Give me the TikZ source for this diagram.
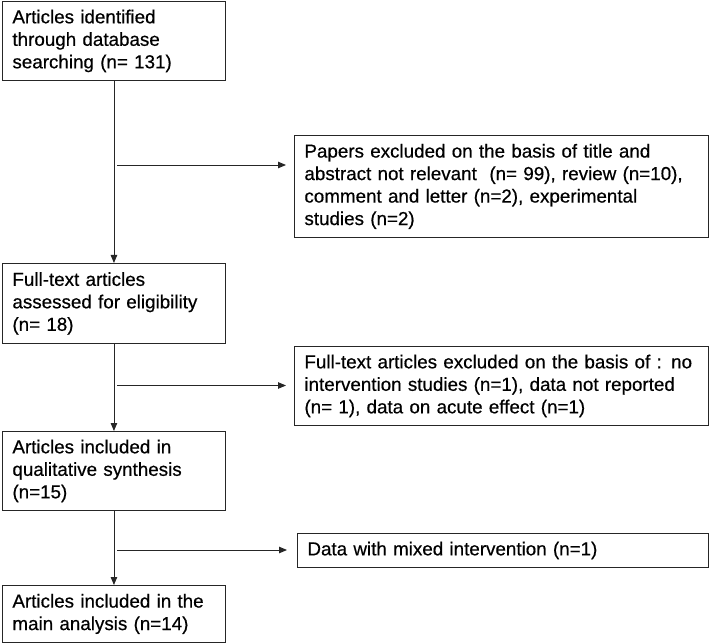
\documentclass[tikz,border=0pt]{standalone}
\usepackage{fontspec}
\setmainfont[FakeBold=0.5]{Liberation Sans}
\usetikzlibrary{arrows.meta,calc}
\tikzset{
  stage/.style={draw=black!85, line width=.9pt, anchor=north west, align=left,
    inner xsep=10pt, inner ysep=0pt, font=\fontsize{18.8}{22.5}\selectfont},
  flow/.style={draw=black!85, line width=.9pt, -{Triangle[length=8pt,width=6.5pt]}}
}
\begin{document}
\begin{tikzpicture}[x=1pt,y=-1pt]
  \useasboundingbox (0,0) rectangle (709,644);
  % main column
  \node[stage, text width=203pt, minimum height=79pt] (ident) at (2,1) {Articles identified\\through database\\searching (n= 131)};
  \node[stage, text width=203pt, minimum height=80pt] (elig) at (2,263) {Full-text articles\\assessed for eligibility\\(n= 18)};
  \node[stage, text width=203pt, minimum height=79pt] (qual) at (2,431) {Articles included in\\qualitative synthesis\\(n=15)};
  \node[stage, text width=203pt, minimum height=57pt] (main) at (2,585) {Articles included in the\\main analysis (n=14)};
  % exclusions
  \node[stage, text width=394pt, minimum height=102pt] (excl) at (294,135) {Papers excluded on the basis of title and\\abstract not relevant\ \ (n= 99), review (n=10),\\comment and letter (n=2), experimental\\studies (n=2)};
  \node[stage, text width=394pt, minimum height=79pt] (fexcl) at (294,346) {Full-text articles excluded on the basis of : no\\intervention studies (n=1), data not reported\\(n= 1), data on acute effect (n=1)};
  \node[stage, text width=391pt, minimum height=34pt] (mixed) at (297,533) {Data with mixed intervention (n=1)};
  % arrows down
  \draw[flow] (ident) -- (elig);
  \draw[flow] (elig) -- (qual);
  \draw[flow] (qual) -- (main);
  % arrows right
  \coordinate (s1) at (117,165); \coordinate (s2) at (117,385.5); \coordinate (s3) at (117,550);
  \draw[flow, shorten >=8pt] (s1) -- (s1 -| excl.west);
  \draw[flow, shorten >=8pt] (s2) -- (s2 -| fexcl.west);
  \draw[flow, shorten >=10pt] (s3) -- (s3 -| mixed.west);
\end{tikzpicture}
\end{document}
